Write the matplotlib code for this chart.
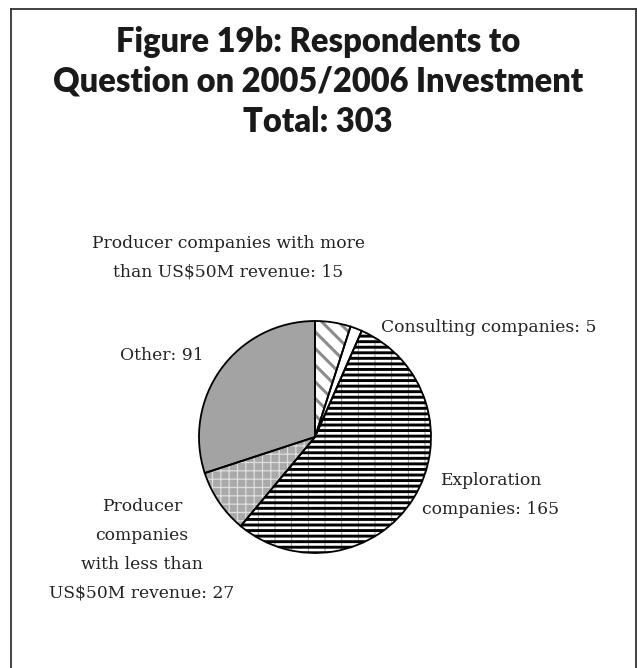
import matplotlib
matplotlib.use("Agg")
import matplotlib.pyplot as plt
from matplotlib.lines import Line2D
from matplotlib.patches import Wedge

# Survey respondents by company type
categories = [
    "Producer companies with more\nthan US$50M revenue",
    "Consulting companies",
    "Exploration\ncompanies",
    "Producer\ncompanies\nwith less than\nUS$50M revenue",
    "Other",
]
counts = [15, 5, 165, 27, 91]
total = sum(counts)

title = ("Figure 19b: Respondents to\n"
         "Question on 2005/2006 Investment\n"
         f"Total: {total}")

W, H = 637, 668
fig = plt.figure(figsize=(W / 100, H / 100), dpi=100)
fig.patch.set_facecolor("white")

def fx(px):
    return px / W

def fy(py):
    return 1 - py / H

# Open frame (left, top, right)
frame_col = "#333333"
fig.add_artist(Line2D([fx(10.5), fx(10.5)], [fy(669), fy(8.5)], color=frame_col, lw=1.3))
fig.add_artist(Line2D([fx(10.5), fx(635.5)], [fy(8.5), fy(8.5)], color=frame_col, lw=1.3))
fig.add_artist(Line2D([fx(635.5), fx(635.5)], [fy(8.5), fy(669)], color=frame_col, lw=1.3))

# Title
fig.text(fx(318), fy(82), title, ha="center", va="center",
         fontsize=23.5, fontweight="heavy", family="Lato",
         color="#1a1a1a", linespacing=1.3)

# Pie
cx, cy, r = 315, 437, 116
ax = fig.add_axes([fx(cx - r), fy(cy + r), (2 * r) / W, (2 * r) / H])

faces = ["white", "white", "white", "#a9a9a9", "#a3a3a3"]
hatches = ["\\\\", None, "|", "++", None]
hatch_cols = ["#8c8c8c", "black", "#8a8a8a", "#dedede", "black"]
hatch_lws = [2.2, 1.0, 0.6, 0.9, 1.0]
# second hatch layer drawn over the first (thick horizontal stripes)
top_hatches = [None, None, "---", None, None]

wedges, _ = ax.pie(counts, startangle=90, counterclock=False, radius=1)
ax.set_xlim(-1, 1)
ax.set_ylim(-1, 1)
ax.set_aspect("auto")
ax.axis("off")

for w, fc, hat, hc, hl, top in zip(wedges, faces, hatches, hatch_cols,
                                   hatch_lws, top_hatches):
    w.set_facecolor(fc)
    w.set_edgecolor(hc)
    w.set_linewidth(0)
    w.set_clip_on(False)
    if hat:
        w.set_hatch(hat)
        w.set_hatch_linewidth(hl)
    if top:
        layer = Wedge(w.center, w.r, w.theta1, w.theta2, facecolor="none",
                      edgecolor="black", linewidth=0, hatch=top, zorder=4,
                      clip_on=False)
        layer.set_hatch_linewidth(2.1)
        ax.add_patch(layer)
    # black outline drawn on top of the hatch
    ax.add_patch(Wedge(w.center, w.r, w.theta1, w.theta2, facecolor="none",
                       edgecolor="black", linewidth=1.3, zorder=5,
                       clip_on=False))

# Labels
lab_kw = dict(fontsize=12.3, family="DejaVu Serif", color="#222222",
              ha="center", va="center", linespacing=1.9)
label_pos = [(228, 258), (489, 328), (491, 495), (142, 550), (162, 356)]
for name, n, (px, py) in zip(categories, counts, label_pos):
    fig.text(fx(px), fy(py), f"{name}: {n}", **lab_kw)

fig.savefig("out.png", dpi=100, facecolor="white")
